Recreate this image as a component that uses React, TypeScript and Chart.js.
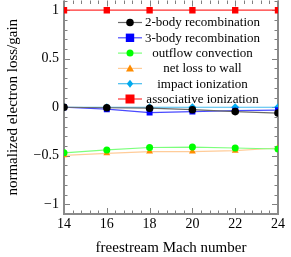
import React, { useEffect, useRef } from "react";
import { Chart, registerables } from "chart.js";

Chart.register(...registerables);

const machNumbers = [14, 16, 18, 20, 22, 24];
const twoBody = [0, -0.005, -0.01, -0.025, -0.045, -0.06];
const threeBody = [0, -0.02, -0.055, -0.045, -0.035, -0.03];
const outflow = [-0.47, -0.44, -0.415, -0.41, -0.42, -0.43];
const netLossWall = [-0.495, -0.475, -0.457, -0.457, -0.447, -0.42];
const impactIon = [0, 0, 0, 0, 0, 0];
const associativeIon = [1, 1, 1, 1, 1, 1];

const seriesNames = [
  "2-body recombination",
  "3-body recombination",
  "outflow convection",
  "net loss to wall",
  "impact ionization",
  "associative ionization",
];

const xTickValues = [14, 16, 18, 20, 22, 24];
const yTickValues = [-1, -0.5, 0, 0.5, 1];

const FONT = "'Liberation Serif', 'Times New Roman', serif";

function drawMarker(ctx: CanvasRenderingContext2D, style: string, x: number, y: number, r: number, color: string) {
  ctx.save();
  ctx.fillStyle = color;
  ctx.beginPath();
  if (style === "circle") {
    ctx.arc(x, y, r, 0, Math.PI * 2);
  } else if (style === "rect") {
    ctx.rect(x - r, y - r, 2 * r, 2 * r);
  } else if (style === "triangle") {
    ctx.moveTo(x, y - r);
    ctx.lineTo(x + r, y + r * 0.8);
    ctx.lineTo(x - r, y + r * 0.8);
    ctx.closePath();
  } else if (style === "rectRot") {
    ctx.moveTo(x, y - r);
    ctx.lineTo(x + r * 0.8, y);
    ctx.lineTo(x, y + r);
    ctx.lineTo(x - r * 0.8, y);
    ctx.closePath();
  }
  ctx.fill();
  ctx.restore();
}

const frameAndLegend = {
  id: "frameAndLegend",
  beforeDatasetsDraw(chart: any) {
    const { ctx, chartArea: a, scales } = chart;
    const xs = scales.x;
    const ys = scales.y;
    ctx.save();
    ctx.strokeStyle = "#808080";
    ctx.lineWidth = 1;
    for (let i = 0; i <= 25; i++) {
      const v = 14 + i * 0.4;
      const px = Math.round(xs.getPixelForValue(v)) + 0.5;
      const major = i % 5 === 0;
      const len = major ? 6 : 3.5;
      ctx.beginPath();
      ctx.moveTo(px, a.bottom);
      ctx.lineTo(px, a.bottom - len);
      ctx.moveTo(px, a.top);
      ctx.lineTo(px, a.top + len);
      ctx.stroke();
    }
    for (let i = 0; i <= 22; i++) {
      const v = -1.1 + i * 0.1;
      const py = Math.round(ys.getPixelForValue(v)) + 0.5;
      const major = Math.abs(Math.round(v * 10) % 5) === 0;
      const len = major ? 6 : 3.5;
      ctx.beginPath();
      ctx.moveTo(a.left, py);
      ctx.lineTo(a.left + len, py);
      ctx.moveTo(a.right, py);
      ctx.lineTo(a.right - len, py);
      ctx.stroke();
    }
    ctx.lineWidth = 2;
    ctx.strokeStyle = "#8a8a8a";
    ctx.beginPath();
    ctx.moveTo(a.left, a.top);
    ctx.lineTo(a.left, a.bottom);
    ctx.lineTo(a.right, a.bottom);
    ctx.lineTo(a.right, a.top);
    ctx.stroke();
    ctx.restore();
  },
  afterDraw(chart: any) {
    const { ctx, chartArea: a } = chart;
    ctx.save();
    ctx.font = `13px ${FONT}`;
    ctx.textAlign = "center";
    ctx.textBaseline = "middle";
    chart.data.datasets.forEach((ds: any, i: number) => {
      const y = a.top + 22 + i * 15.3;
      const x0 = a.left + 54;
      const x1 = a.left + 78;
      ctx.strokeStyle = ds.borderColor;
      ctx.lineWidth = 1.2;
      ctx.beginPath();
      ctx.moveTo(x0, y);
      ctx.lineTo(x1, y);
      ctx.stroke();
      drawMarker(ctx, ds.pointStyle, (x0 + x1) / 2, y, ds.pointRadius, ds.pointBackgroundColor);
      ctx.fillStyle = "#000";
      ctx.fillText(ds.label, a.left + 138.5, y + 0.5);
    });
    ctx.restore();
  },
};

export default function App() {
  const ref = useRef<HTMLCanvasElement>(null);
  useEffect(() => {
    document.body.style.margin = "0";
    document.body.style.overflow = "hidden";
    const mk = (label: string, data: number[], line: string, fill: string, style: string, r: number) => ({
      label,
      data: data.map((v, i) => ({ x: machNumbers[i], y: v })),
      borderColor: line,
      backgroundColor: fill,
      pointBackgroundColor: fill,
      pointBorderWidth: 0,
      pointStyle: style,
      pointRadius: r,
      borderWidth: 1.2,
      tension: 0,
    });
    const chart = new Chart(ref.current!, {
      type: "line",
      data: {
        datasets: [
          mk(seriesNames[0], twoBody, "#6a6a6a", "#000000", "circle", 3.8),
          mk(seriesNames[1], threeBody, "#4a4aff", "#0000ff", "rect", 4.2),
          mk(seriesNames[2], outflow, "#7cff7c", "#00ff00", "circle", 3.5),
          mk(seriesNames[3], netLossWall, "#ffcc99", "#ff8c00", "triangle", 4),
          mk(seriesNames[4], impactIon, "#44bbee", "#00aaee", "rectRot", 4),
          mk(seriesNames[5], associativeIon, "#ff3030", "#ff0000", "rect", 4.5),
        ] as any,
      },
      options: {
        animation: false,
        responsive: false,
        layout: { padding: { top: 0, right: 13, left: 0, bottom: 0 } },
        plugins: { legend: { display: false }, tooltip: { enabled: false } },
        scales: {
          x: {
            type: "linear",
            min: 14,
            max: 24,
            afterBuildTicks: (s: any) => {
              s.ticks = xTickValues.map((v) => ({ value: v }));
            },
            afterFit: (s: any) => {
              s.height = 43;
              s.paddingLeft = 0;
              s.paddingRight = 0;
            },
            grid: { display: false, drawTicks: false },
            border: { display: false },
            ticks: { color: "#000", font: { family: FONT, size: 14 }, padding: 2, maxRotation: 0 },
            title: {
              display: true,
              text: "freestream Mach number",
              color: "#000",
              font: { family: FONT, size: 15 },
              padding: { top: 2, bottom: 0 },
            },
          },
          y: {
            type: "linear",
            min: -1.1,
            max: 1.1,
            afterBuildTicks: (s: any) => {
              s.ticks = yTickValues.map((v) => ({ value: v }));
            },
            afterFit: (s: any) => {
              s.width = 64;
              s.paddingTop = 0;
              s.paddingBottom = 0;
            },
            grid: { display: false, drawTicks: false },
            border: { display: false },
            ticks: {
              color: "#000",
              font: { family: FONT, size: 14 },
              padding: 5,
              callback: (v: any) => (Number(v) < 0 ? "\u2212" + String(Math.abs(Number(v))) : String(v)),
            },
            title: {
              display: true,
              text: "normalized electron loss/gain",
              color: "#000",
              font: { family: FONT, size: 15 },
              padding: { top: 4, bottom: 0 },
            },
          },
        },
      },
      plugins: [frameAndLegend],
    });
    return () => chart.destroy();
  }, []);
  return (
    <div style={{ position: "absolute", left: 0, top: -4, width: 291, height: 261, overflow: "hidden" }}>
      <canvas ref={ref} width={291} height={261} />
    </div>
  );
}
